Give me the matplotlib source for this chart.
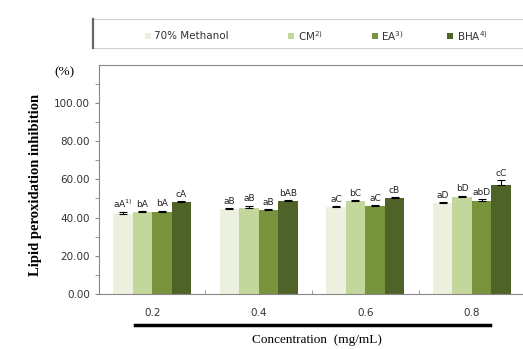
import numpy as np
import matplotlib
matplotlib.use('Agg')
import matplotlib.pyplot as plt
from matplotlib.patches import Rectangle

concs = ['0.2', '0.4', '0.6', '0.8']
series = ['70% Methanol', 'CM$^{2)}$', 'EA$^{3)}$', 'BHA$^{4)}$']
colors = ['#EBF1DE', '#C3D69B', '#77933C', '#4F6228']

vals = [
    [41.6, 44.3, 45.7, 47.5],   # 70% Methanol
    [42.8, 44.9, 48.7, 51.0],   # CM
    [43.1, 44.0, 46.0, 48.5],   # EA
    [48.0, 48.7, 50.4, 56.9],   # BHA
]
errs = [
    [1.4, 0.5, 0.4, 0.4],
    [0.4, 1.4, 0.3, 0.5],
    [0.5, 0.3, 0.4, 1.2],
    [0.5, 0.4, 0.4, 2.8],
]
letters = [
    ['aA$^{1)}$', 'aB', 'aC', 'aD'],
    ['bA', 'aB', 'bC', 'bD'],
    ['bA', 'aB', 'aC', 'abD'],
    ['cA', 'bAB', 'cB', 'cC'],
]

fig = plt.figure(figsize=(5.23, 3.49), dpi=100)
ax = fig.add_axes([0.189, 0.158, 0.815, 0.656])

x = np.arange(len(concs))
w = 0.183
for i in range(4):
    pos = x + (i - 1.5) * w
    ax.bar(pos, vals[i], w, color=colors[i], zorder=2)
    ax.errorbar(pos, vals[i], yerr=[np.zeros(4), errs[i]], fmt='none',
                ecolor='black', elinewidth=0.8, capsize=3, capthick=0.8, zorder=3)
    for j in range(4):
        ax.text(pos[j], vals[i][j] + errs[i][j] + 1.2, letters[i][j],
                ha='center', va='bottom', fontsize=6.5, color='#222222')

ax.set_xlim(-0.5, 3.5)
ax.set_ylim(0, 120)
ax.set_yticks(np.arange(0, 101, 20))
ax.set_yticklabels(['%.2f' % v for v in np.arange(0, 101, 20)])
ax.set_yticks(np.arange(10, 120, 10), minor=True)
ax.set_xticks(x)
ax.set_xticklabels(concs)
ax.set_xticks([0.5, 1.5, 2.5], minor=True)
ax.tick_params(axis='x', which='major', length=0, pad=10, labelsize=7.5, colors='#333333')
ax.tick_params(axis='x', which='minor', length=3, direction='in', color='#888888')
ax.tick_params(axis='y', which='both', length=3, color='#888888', labelsize=7.5,
               labelcolor='#333333')
for s in ['left', 'bottom', 'top']:
    ax.spines[s].set_color('#888888')
    ax.spines[s].set_linewidth(0.8)
ax.spines['right'].set_visible(False)

fig.text(0.067, 0.47, 'Lipid peroxidation inhibition', rotation=90, ha='center',
         va='center', family='Liberation Serif', fontweight='bold', fontsize=10.5)
fig.text(0.124, 0.794, '(%)', ha='center', va='center', family='Liberation Serif', fontsize=9.5)

# thick line under the x labels
fig.add_artist(plt.Line2D([0.258, 0.937], [0.069, 0.069], transform=fig.transFigure,
                          color='black', lw=2.5))
fig.text(0.606, 0.026, 'Concentration  (mg/mL)', ha='center', va='center',
         family='Liberation Serif', fontsize=9.5)

# legend box drawn by hand
fig.add_artist(Rectangle((0.176, 0.862), 0.83, 0.083, transform=fig.transFigure,
                         facecolor='white', edgecolor='#d0d0d0', lw=0.8))
fig.add_artist(plt.Line2D([0.177, 0.177], [0.862, 0.945], transform=fig.transFigure,
                          color='#666666', lw=1.6))
sq_x = [0.277, 0.551, 0.711, 0.855]
for c, lab, sx in zip(colors, series, sq_x):
    fig.add_artist(Rectangle((sx, 0.887), 0.012, 0.018, transform=fig.transFigure,
                             facecolor=c, edgecolor='none'))
    fig.text(sx + 0.018, 0.897, lab, ha='left', va='center', fontsize=7.5, color='#333333')

fig.savefig('out.png', dpi=100)
